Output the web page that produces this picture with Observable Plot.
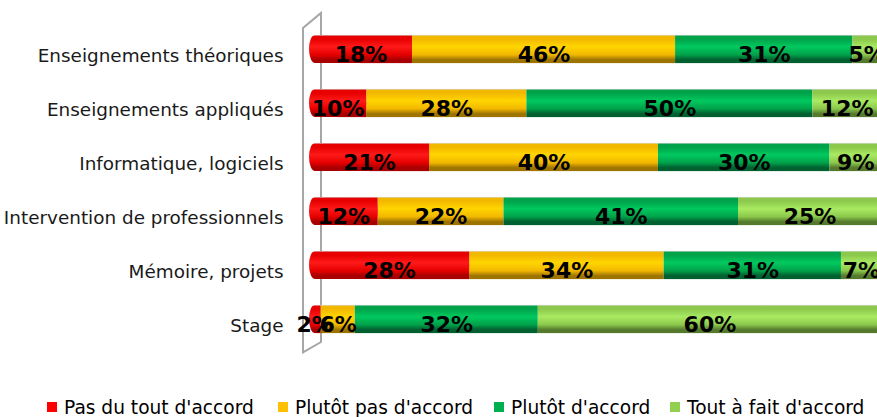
<!DOCTYPE html>
<html>
<head>
<meta charset="utf-8">
<script src="https://cdn.jsdelivr.net/npm/d3@7"></script>
<script src="https://cdn.jsdelivr.net/npm/@observablehq/plot@0.6"></script>
<style>
  html, body { margin: 0; padding: 0; background: #fff; overflow: hidden; width: 877px; height: 417px; }
  #chart svg { display: block; overflow: hidden; }
  #legend { position: relative; height: 32px; font-family: "DejaVu Sans", sans-serif; font-size: 18.6px; color: #000; }
  .item { position: absolute; top: 6px; display: flex; align-items: center; height: 32px; white-space: nowrap; }
  .sw { width: 10px; height: 10px; margin-right: 7px; }
</style>
</head>
<body>
<div id="chart"></div>
<div id="legend"></div>
<script>
const categories = ["Enseignements théoriques", "Enseignements appliqués", "Informatique, logiciels", "Intervention de professionnels", "Mémoire, projets", "Stage"];
const series = ["Pas du tout d'accord", "Plutôt pas d'accord", "Plutôt d'accord", "Tout à fait d'accord"];
const pasDuTout = [18, 10, 21, 12, 28, 2];
const plutotPas = [46, 28, 40, 22, 34, 6];
const plutot = [31, 50, 30, 41, 31, 32];
const toutAFait = [5, 12, 9, 25, 7, 60];
const colors = ["#FF0000", "#FFC000", "#00B050", "#92D050"];
const shades = [
  {top: "#E60000", light: "#FF1A1A", dark: "#A80000"},
  {top: "#F2B800", light: "#FFD500", dark: "#9E7400"},
  {top: "#00A24A", light: "#00C95E", dark: "#006030"},
  {top: "#8CC84C", light: "#A9EA62", dark: "#557A2E"}
];

const valuesBySeries = [pasDuTout, plutotPas, plutot, toutAFait];
const rows = [];
categories.forEach((cat, i) => {
  let acc = 0;
  series.forEach((s, j) => {
    const v = valuesBySeries[j][i];
    rows.push({cat, series: s, value: v, x1: acc, x2: acc + v, k: j});
    acc += v;
  });
});
const redRows = rows.filter(d => d.k === 0);
const gradIds = series.map((s, j) => `grad${j}`);
const gradUrls = gradIds.map(id => `url(#${id})`);

const inset = 12.9;
const plot = Plot.plot({
  width: 877,
  height: 385,
  marginLeft: 0, marginRight: 0, marginTop: 19.6, marginBottom: 36.6,
  style: {background: "#fff", overflow: "hidden"},
  x: {domain: [0, 100], range: [309, 881], axis: null},
  y: {domain: categories, padding: 0, axis: null},
  color: {domain: series, range: gradUrls},
  marks: [
    Plot.barX(rows, {x1: "x1", x2: "x2", y: "cat", fill: "series", insetTop: inset, insetBottom: inset, filter: d => d.k > 0}),
    Plot.barX(redRows, {x1: "x1", x2: "x2", y: "cat", fill: "series", insetTop: inset, insetBottom: inset, rx: 6, ry: 14}),
    Plot.barX(redRows, {x1: d => d.x2 / 2, x2: "x2", y: "cat", fill: "series", insetTop: inset, insetBottom: inset}),
    Plot.text(categories, {x: 0, y: d => d, dx: -26, dy: 7, textAnchor: "end", fontSize: 18.4, fontFamily: "DejaVu Sans", fill: "#1a1a1a"}),
    Plot.text(rows, {x: d => (d.x1 + d.x2) / 2, y: "cat", text: d => d.value + "%", dy: 5, fontSize: 22, fontWeight: "bold", fontFamily: "DejaVu Sans", fill: "#000", style: "font-stretch: condensed; letter-spacing: -0.6px"})
  ]
});

// gradients
const svg = d3.select(plot);
const defs = svg.insert("defs", ":first-child");
shades.forEach((sh, j) => {
  const g = defs.append("linearGradient").attr("id", gradIds[j]).attr("x1", 0).attr("y1", 0).attr("x2", 0).attr("y2", 1);
  [[0, "#d8d8d8"], [0.05, sh.top], [0.15, sh.top], [0.42, sh.light], [0.7, sh.top], [0.88, sh.dark], [1, sh.dark]]
    .forEach(([o, c]) => g.append("stop").attr("offset", o).attr("stop-color", c));
});

// 3D wall outline, placed from the library's scales
const xs = plot.scale("x");
const ys = plot.scale("y");
const x0 = xs.apply(0);
const yTop = ys.range[0], yBot = ys.range[1];
const wall = [
  [[x0 - 6, yBot + 5], [x0 - 6, yTop + 8.4], [x0 + 12, yTop - 6.6], [x0 + 12, yBot - 6.4], [x0 - 6, yBot + 4]]
];
svg.insert("path", "defs + *")
  .attr("d", d3.line()(wall[0]))
  .attr("fill", "none")
  .attr("stroke", "#A6A6A6")
  .attr("stroke-width", 2);

document.getElementById("chart").appendChild(plot);

// legend
const legend = document.getElementById("legend");
const lefts = [47, 278, 494, 670];
series.forEach((s, j) => {
  const it = document.createElement("div");
  it.className = "item";
  it.style.left = lefts[j] + "px";
  it.innerHTML = `<span class="sw" style="background:${colors[j]}"></span><span>${s}</span>`;
  legend.appendChild(it);
});
</script>
</body>
</html>
